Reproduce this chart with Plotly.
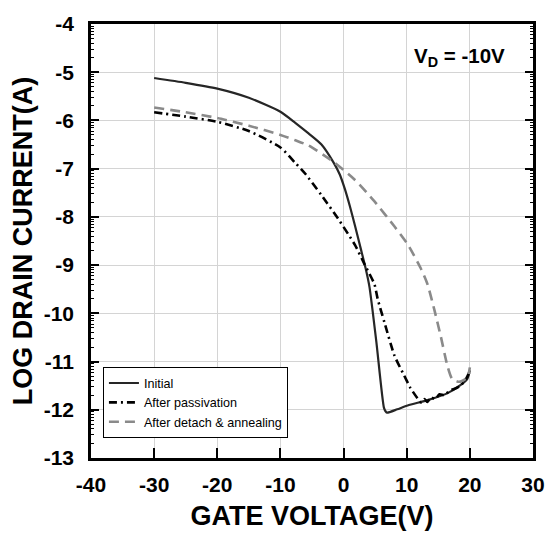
import math
import plotly.graph_objects as go

# ---- data ----
initial_x = [-30, -25, -20, -15, -10, -7.65, -5.55, -3.5, -1.6, -0.6, 0.2, 1.0, 1.8, 2.8, 3.5,
             4.1, 5.2, 6.4, 6.7, 6.9, 8.5, 10.15, 13.3, 16.4, 18.5, 19.6, 20]
initial_y = [-5.12, -5.22, -5.34, -5.53, -5.82, -6.05, -6.27, -6.5, -6.87, -7.12, -7.42, -7.78,
             -8.18, -8.7, -9.07, -9.45, -10.6, -11.96, -12.04, -12.06, -11.99, -11.91, -11.8, -11.66,
             -11.49, -11.36, -11.18]

passiv_x = [-30, -25, -20, -15, -10, -7.65, -6.1, -3.5, -0.85, 0.7, 1.8, 3.35, 4.9, 5.4, 6.5,
            8.07, 9.6, 10.6, 11.7, 12.3, 12.8, 13.3, 13.8, 14.5, 15.2, 16, 16.8, 17.5, 18.5, 19.3, 20]
passiv_y = [-5.83, -5.92, -6.03, -6.22, -6.56, -6.88, -7.1, -7.55, -8.04, -8.35, -8.58, -8.99,
            -9.4, -9.7, -10.2, -10.88, -11.29, -11.55, -11.76, -11.85, -11.78, -11.84, -11.74, -11.78,
            -11.68, -11.7, -11.6, -11.57, -11.5, -11.38, -11.2]

anneal_x = [-30, -25, -20, -15, -10, -7.65, -5.55, -1.6, 1.77, 4.9, 8.07, 10.2, 12.2, 13.3, 14.4,
            15.4, 16.45, 17.2, 18.3, 19.6, 20]
anneal_y = [-5.73, -5.83, -5.95, -6.11, -6.3, -6.41, -6.52, -6.86, -7.23, -7.68, -8.2, -8.58, -9.06,
            -9.4, -9.94, -10.48, -11.09, -11.36, -11.42, -11.33, -11.12]

series_names = ["Initial", "After passivation", "After detach & annealing"]
x_ticks = [-40, -30, -20, -10, 0, 10, 20, 30]
y_ticks = [-13, -12, -11, -10, -9, -8, -7, -6, -5, -4]
annotation_text = "V<sub>D</sub> = -10V"

FONT = "Arial, Liberation Sans, Helvetica, sans-serif"

# log-decade style minor ticks on the y axis
minor_vals = [d + math.log10(k) for d in range(-13, -4) for k in range(2, 10)]

fig = go.Figure()
fig.add_trace(go.Scatter(x=initial_x, y=initial_y, mode="lines", name=series_names[0],
                         line=dict(color="#262626", width=2.2, dash="solid", shape="spline", smoothing=0.6)))
fig.add_trace(go.Scatter(x=passiv_x, y=passiv_y, mode="lines", name=series_names[1],
                         line=dict(color="#000000", width=2.6, dash="8px,4px,2px,4px",
                                   shape="spline", smoothing=0.6)))
fig.add_trace(go.Scatter(x=anneal_x, y=anneal_y, mode="lines", name=series_names[2],
                         line=dict(color="#8a8a8a", width=2.6, dash="10px,6px", shape="spline", smoothing=0.6)))
# empty helper trace so the right-hand tick axis is drawn
fig.add_trace(go.Scatter(x=[None], y=[None], yaxis="y2", showlegend=False, hoverinfo="skip"))

fig.update_layout(
    width=557, height=544,
    margin=dict(l=91, r=21, t=14, b=86),
    paper_bgcolor="white", plot_bgcolor="white",
    font=dict(family=FONT, color="black"),
    showlegend=True,
    legend=dict(x=0.027, y=0.209, xanchor="left", yanchor="top",
                bgcolor="white", bordercolor="black", borderwidth=1,
                font=dict(family=FONT, size=12.6, color="black"),
                tracegroupgap=0, itemwidth=30),
    annotations=[dict(x=0.727, y=0.925, xref="paper", yref="paper", xanchor="left", yanchor="middle",
                      text=annotation_text, showarrow=False,
                      font=dict(family=FONT, size=20.5, color="black", weight="bold"))],
    yaxis2=dict(overlaying="y", side="right", range=[-13, -4], tickmode="array", tickvals=y_ticks,
                showticklabels=False, ticks="inside", ticklen=8, tickwidth=2, tickcolor="black",
                showline=False, showgrid=False, zeroline=False,
                minor=dict(tickvals=minor_vals, ticks="inside", ticklen=3, tickwidth=1,
                           tickcolor="black", showgrid=False)),
)

fig.update_xaxes(
    range=[-40, 30], tickmode="array", tickvals=x_ticks, ticktext=[str(v) for v in x_ticks],
    ticks="inside", ticklen=10, tickwidth=2, tickcolor="black",
    showline=True, linewidth=2.5, linecolor="black", mirror=True,
    showgrid=True, gridcolor="#d4d4d4", gridwidth=1, zeroline=False,
    tickfont=dict(family=FONT, size=21, color="black", weight="bold"),
    ticklabelstandoff=6,
    title=dict(text="GATE VOLTAGE(V)", font=dict(family=FONT, size=27, color="black", weight="bold"),
               standoff=12),
)
fig.layout.yaxis.update(
    range=[-13, -4], tickmode="array", tickvals=y_ticks, ticktext=[str(v) for v in y_ticks],
    ticks="inside", ticklen=8, tickwidth=2, tickcolor="black",
    showline=True, linewidth=2.5, linecolor="black", mirror=True,
    showgrid=True, gridcolor="#d4d4d4", gridwidth=1, zeroline=False,
    minor=dict(tickvals=minor_vals, ticks="inside", ticklen=3, tickwidth=1, tickcolor="black",
               showgrid=False),
    tickfont=dict(family=FONT, size=21, color="black", weight="bold"),
    ticklabelstandoff=10,
    title=dict(text="LOG DRAIN CURRENT(A)", font=dict(family=FONT, size=27, color="black", weight="bold"),
               standoff=4),
)

fig.write_html("out.html")
